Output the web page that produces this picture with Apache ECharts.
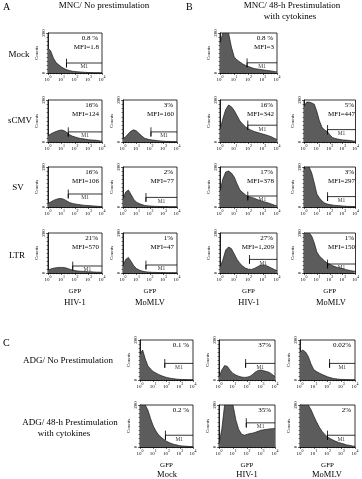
<!DOCTYPE html>
<html>
<head>
<meta charset="utf-8">
<script src="https://cdn.jsdelivr.net/npm/echarts@6/dist/echarts.min.js"></script>
<style>
  html, body { margin: 0; padding: 0; background: #fff; }
  #chart { width: 362px; height: 479px; }
</style>
</head>
<body>
<div id="chart"></div>
<script>
// GFP bins in log10 decades (10^0 .. 10^4)
const bins = [0, 0.2, 0.4, 0.6, 0.8, 1, 1.2, 1.4, 1.6, 1.8, 2, 2.2, 2.4, 2.6, 2.8, 3, 3.2, 3.4, 3.6, 3.8, 4];
const xTicks = [0, 1, 2, 3, 4];

// counts (0-200)
const aMock    = [125, 110, 75, 52, 41, 30, 22, 16, 12, 9, 7, 6, 5, 4, 3, 2, 2, 1, 1, 1, 0];
const bMock    = [150, 200, 200, 200, 130, 80, 65, 55, 45, 38, 32, 27, 22, 20, 18, 16, 14, 12, 10, 8, 5];
const aScmvHiv = [30, 38, 45, 50, 55, 57, 54, 45, 35, 28, 24, 20, 17, 15, 13, 11, 10, 9, 8, 6, 4];
const aScmvMo  = [15, 25, 40, 52, 58, 52, 40, 28, 18, 14, 11, 9, 8, 6, 5, 4, 3, 3, 2, 2, 1];
const bScmvHiv = [60, 110, 155, 176, 168, 150, 125, 100, 85, 72, 62, 56, 50, 46, 42, 38, 34, 30, 25, 18, 12];
const bScmvMo  = [168, 190, 190, 186, 180, 145, 100, 70, 57, 50, 35, 22, 17, 14, 12, 10, 9, 8, 7, 5, 4];
const aSvHiv   = [18, 25, 33, 38, 42, 42, 38, 30, 22, 18, 15, 13, 11, 9, 8, 7, 6, 5, 4, 3, 2];
const aSvMo    = [40, 75, 85, 62, 38, 24, 17, 12, 8, 6, 5, 4, 3, 3, 2, 2, 2, 1, 1, 1, 1];
const bSvHiv   = [80, 140, 175, 180, 170, 150, 115, 85, 72, 60, 52, 48, 44, 38, 33, 28, 24, 20, 15, 10, 5];
const bSvMo    = [190, 200, 200, 170, 120, 65, 45, 30, 20, 15, 12, 10, 8, 7, 6, 5, 4, 3, 3, 2, 2];
const aLtrHiv  = [15, 20, 24, 26, 28, 28, 27, 24, 19, 15, 12, 10, 9, 8, 7, 6, 6, 5, 4, 4, 3];
const aLtrMo   = [35, 68, 78, 58, 36, 22, 15, 10, 7, 5, 4, 3, 3, 2, 2, 2, 1, 1, 1, 1, 1];
const bLtrHiv  = [30, 65, 115, 130, 122, 95, 68, 48, 34, 24, 19, 18, 22, 30, 37, 40, 38, 32, 25, 18, 12];
const bLtrMo   = [200, 200, 200, 185, 150, 105, 85, 72, 60, 50, 43, 37, 32, 28, 25, 22, 18, 15, 12, 10, 8];
const c1Mock   = [130, 150, 105, 70, 55, 42, 35, 28, 22, 17, 13, 10, 8, 6, 4, 3, 2, 2, 1, 1, 1];
const c1Hiv    = [15, 50, 72, 68, 48, 33, 25, 19, 15, 13, 14, 18, 28, 40, 48, 50, 46, 42, 38, 28, 17];
const c1Mo     = [140, 150, 140, 118, 80, 52, 42, 35, 28, 22, 16, 12, 8, 6, 4, 3, 2, 2, 1, 1, 1];
const c2Mock   = [200, 200, 200, 175, 135, 100, 76, 58, 46, 36, 27, 21, 16, 12, 9, 6, 5, 4, 3, 2, 1];
const c2Hiv    = [16, 85, 200, 200, 200, 200, 130, 85, 62, 56, 60, 64, 66, 70, 75, 80, 82, 84, 86, 87, 88];
const c2Mo     = [200, 200, 200, 200, 178, 148, 120, 95, 75, 60, 48, 40, 33, 27, 22, 18, 14, 10, 8, 5, 3];

const histograms = [aMock, bMock, aScmvHiv, aScmvMo, bScmvHiv, bScmvMo, aSvHiv, aSvMo, bSvHiv, bSvMo,
  aLtrHiv, aLtrMo, bLtrHiv, bLtrMo, c1Mock, c1Hiv, c1Mo, c2Mock, c2Hiv, c2Mo];

// M1 gate: start (decade) and level (counts)
const gateStart = [1.37, 1.9, 1.5, 2.07, 1.95, 1.83, 1.5, 1.7, 1.95, 1.83, 1.83, 1.7, 2.07, 1.83, 1.87, 1.9, 2.15, 1.92, 1.95, 2.0];
const gateLevel = [50, 51, 48, 48, 80, 59, 65, 48, 55, 52, 35, 40, 68, 45, 83, 83, 83, 56, 115, 56];

const pctLabels = ['0.8 %', '0.8 %', '16%', '3%', '16%', '5%', '16%', '2%', '17%', '3%',
  '21%', '1%', '27%', '1%', '0.1 %', '37%', '0.02%', '0.2 %', '35%', '2%'];
const mfiLabels = ['MFI=1.8', 'MFI=3', 'MFI=124', 'MFI=160', 'MFI=342', 'MFI=447', 'MFI=106', 'MFI=77', 'MFI=378', 'MFI=297',
  'MFI=570', 'MFI=47', 'MFI=1,209', 'MFI=150', '', '', '', '', '', ''];

// plot boxes [left, top, width, height]
const colA1 = [48, 54], colA2 = [123, 54], colB1 = [220, 57], colB2 = [304, 54];
const colC1 = [140, 53], colC2 = [219, 56], colC3 = [300, 55];
const rowMock = [33, 40], rowScmv = [100, 42], rowSv = [167, 40], rowLtr = [233, 40];
const rowC1 = [340, 40], rowC2 = [405, 42];
const boxes = [
  [colA1, rowMock], [colB1, rowMock],
  [colA1, rowScmv], [colA2, rowScmv], [colB1, rowScmv], [colB2, rowScmv],
  [colA1, rowSv], [colA2, rowSv], [colB1, rowSv], [colB2, rowSv],
  [colA1, rowLtr], [colA2, rowLtr], [colB1, rowLtr], [colB2, rowLtr],
  [colC1, rowC1], [colC2, rowC1], [colC3, rowC1],
  [colC1, rowC2], [colC2, rowC2], [colC3, rowC2]
];
const bottomPanels = [10, 11, 12, 13, 17, 18, 19];

const serif = '"Liberation Serif", "DejaVu Serif", serif';
const grids = [], xAxes = [], yAxes = [], series = [], texts = [];

boxes.forEach(function (b, i) {
  const left = b[0][0], width = b[0][1], top = b[1][0], height = b[1][1];
  grids.push({ left: left, top: top, width: width, height: height, show: true, borderColor: '#000', borderWidth: 0.8 });
  xAxes.push({
    gridIndex: i, type: 'value', min: 0, max: 4, interval: 1,
    name: bottomPanels.indexOf(i) >= 0 ? 'GFP' : '',
    nameLocation: 'middle', nameGap: 15,
    nameTextStyle: { fontFamily: serif, fontSize: 7, color: '#000' },
    axisLine: { lineStyle: { color: '#000', width: 0.8 } },
    axisTick: { length: 2, lineStyle: { color: '#000', width: 0.6 } },
    minorTick: { show: true, splitNumber: 5, length: 1.2, lineStyle: { color: '#000', width: 0.5 } },
    splitLine: { show: false },
    axisLabel: {
      margin: 2, color: '#000', fontFamily: serif,
      formatter: function (v) { return xTicks.indexOf(v) >= 0 ? '{a|10}{b|' + v + '}' : ''; },
      rich: {
        a: { fontSize: 5, fontFamily: serif, color: '#000', verticalAlign: 'bottom', lineHeight: 7 },
        b: { fontSize: 4, fontFamily: serif, color: '#000', verticalAlign: 'top', lineHeight: 7 }
      }
    }
  });
  yAxes.push({
    gridIndex: i, type: 'value', min: 0, max: 200, interval: 200,
    name: 'Counts', nameLocation: 'middle', nameRotate: 90, nameGap: 9,
    nameTextStyle: { fontFamily: serif, fontSize: 5, color: '#000' },
    axisLine: { show: true, lineStyle: { color: '#000', width: 0.8 } },
    axisTick: { length: 2, lineStyle: { color: '#000', width: 0.6 } },
    minorTick: { show: true, splitNumber: 10, length: 1.5, lineStyle: { color: '#000', width: 0.5 } },
    splitLine: { show: false },
    axisLabel: { rotate: 90, margin: 2, fontSize: 5, fontFamily: serif, color: '#000' }
  });
  series.push({
    type: 'line', xAxisIndex: i, yAxisIndex: i, symbol: 'none', clip: true,
    data: bins.map(function (x, k) { return [x, histograms[i][k]]; }),
    lineStyle: { color: '#1a1a1a', width: 0.7 },
    areaStyle: { color: '#5c5c5c', opacity: 1 },
    silent: true
  });
  const gs = gateStart[i], gl = gateLevel[i];
  series.push({
    type: 'line', xAxisIndex: i, yAxisIndex: i, symbol: 'none', silent: true,
    data: [[gs, gl + 22], [gs, gl - 22], [gs, gl], [4, gl]],
    lineStyle: { color: '#000', width: 0.8 }
  });
  series.push({
    type: 'scatter', xAxisIndex: i, yAxisIndex: i, symbolSize: 0, silent: true,
    data: [[(gs + 4) / 2, gl]],
    label: { show: true, position: 'bottom', distance: 1, formatter: 'M1', fontSize: 5.5, fontFamily: serif, color: '#000' }
  });
  texts.push({ type: 'text', right: 362 - (left + width - 4), top: top + 2,
    style: { text: pctLabels[i], font: '7px ' + serif, fill: '#000' } });
  if (mfiLabels[i]) {
    texts.push({ type: 'text', right: 362 - (left + width - 3), top: top + 11,
      style: { text: mfiLabels[i], font: '7px ' + serif, fill: '#000' } });
  }
});

function label(txt, x, y, size, align) {
  texts.push({ type: 'text', x: x, y: y,
    style: { text: txt, font: size + 'px ' + serif, fill: '#000', textAlign: align || 'center', textVerticalAlign: 'middle' } });
}
label('A', 3, 7, 10, 'left');
label('MNC/ No prestimulation', 104, 6, 9);
label('B', 186, 7, 10, 'left');
label('MNC/ 48-h Prestimulation', 292, 6, 9);
label('with cytokines', 290, 17, 9);
label('Mock', 19, 55, 9);
label('sCMV', 20, 121, 9);
label('SV', 18, 188, 9);
label('LTR', 17, 256, 9);
label('HIV-1', 75, 303, 8.5);
label('MoMLV', 150, 303, 8.5);
label('HIV-1', 249, 303, 8.5);
label('MoMLV', 331, 303, 8.5);
label('C', 3, 343, 10, 'left');
label('ADG/ No Prestimulation', 68, 361, 9);
label('ADG/ 48-h Prestimulation', 70, 423, 9);
label('with cytokines', 64, 434, 9);
label('Mock', 167, 475, 8.5);
label('HIV-1', 247, 475, 8.5);
label('MoMLV', 327, 475, 8.5);

const chart = echarts.init(document.getElementById('chart'), null, { renderer: 'canvas' });
chart.setOption({
  animation: false,
  backgroundColor: '#fff',
  grid: grids,
  xAxis: xAxes,
  yAxis: yAxes,
  series: series,
  graphic: texts
});
</script>
</body>
</html>
